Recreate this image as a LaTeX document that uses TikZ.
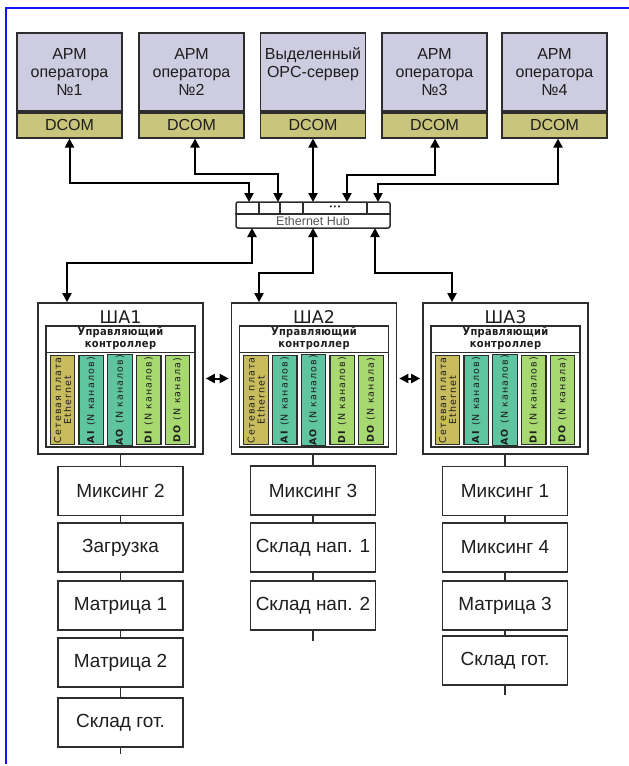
\documentclass[tikz,border=0pt]{standalone}
\usepackage{fontspec}
\setmainfont{Liberation Sans}
\newfontfamily\dvfont{DejaVu Sans}
\newfontfamily\ctlfont[LetterSpace=3]{DejaVu Sans Condensed}
\newfontfamily\modfont[LetterSpace=12]{DejaVu Sans}
\usetikzlibrary{arrows.meta,calc}

\definecolor{armfill}{RGB}{205,204,224}
\definecolor{dcomfill}{RGB}{201,197,125}
\definecolor{ethfill}{RGB}{200,188,92}
\definecolor{aifill}{RGB}{95,196,160}
\definecolor{difill}{RGB}{168,216,112}
\definecolor{linec}{RGB}{45,45,45}
\definecolor{textc}{RGB}{30,30,30}
\definecolor{hubtext}{RGB}{85,85,85}
\definecolor{framec}{RGB}{20,20,250}

\tikzset{
  edgeline/.style={draw=linec, line width=1.7pt},
  armbox/.style={edgeline, fill=armfill, rectangle, minimum width=105pt,
    minimum height=78pt, inner sep=0pt, align=center, text=textc,
    font=\fontsize{16}{18}\selectfont},
  dcombox/.style={edgeline, fill=dcomfill, rectangle, minimum width=105pt,
    minimum height=25pt, inner sep=0pt, text=textc,
    font=\fontsize{16}{18}\selectfont},
  link/.style={draw=black, line width=2pt,
    {Triangle[length=9pt,width=9pt]}-{Triangle[length=9pt,width=9pt]}},
  hubbox/.style={draw=linec, line width=1.5pt, fill=white, rounded corners=2pt,
    minimum width=154pt, minimum height=26pt, inner sep=0pt},
  hubline/.style={draw=linec, line width=1.3pt},
  shabox/.style={edgeline, fill=white, minimum width=165pt, minimum height=151pt,
    inner sep=0pt},
  shatitle/.style={inner sep=0pt, text=textc, font=\dvfont\fontsize{17.5}{17.5}\selectfont},
  panelbox/.style={draw=linec, line width=1.4pt, fill=white, minimum width=149pt,
    minimum height=121pt, inner sep=0pt},
  ctltext/.style={inner sep=0pt, align=center, text=textc,
    font=\ctlfont\bfseries\fontsize{11}{12}\selectfont},
  modbox/.style={draw=linec, line width=1.2pt, rotate=90, minimum width=89pt,
    minimum height=24.5pt, inner sep=0pt, align=center, text=textc,
    font=\modfont\fontsize{9.5}{10}\selectfont},
  stepbox/.style={edgeline, fill=white, minimum width=125pt, minimum height=49pt,
    inner sep=0pt, text=textc, font=\fontsize{19}{19}\selectfont},
  chain/.style={draw=linec, line width=1.6pt},
  twoway/.style={draw=black, line width=2pt,
    {Triangle[length=9pt,width=9pt]}-{Triangle[length=9pt,width=9pt]}},
}

% One cabinet: outer box, title, controller header and five I/O modules
\newcommand\shablock[3]{%
  \node[shabox] (#1) at (#2,378.5) {};
  \node[shatitle] (#1t) at (#2,317) {#3};
  \node[panelbox] (#1p) at (#2,386.5) {};
  \draw[hubline] ($(#1p.north west)+(0,27)$) -- ($(#1p.north east)+(0,27)$);
  \node[ctltext] (#1h) at ($(#1p.north)+(0,13.5)$) {Управляющий\\контроллер};
  \node[modbox, fill=ethfill] (#1m1) at ($(#1p.south west)+(17.25,-47.5)$) {Сетевая плата\\Ethernet};
  \node[modbox, fill=aifill] (#1m2) at ($(#1p.south west)+(45.95,-47.5)$) {\textbf{AI} (N каналов)};
  \node[modbox, fill=aifill] (#1m3) at ($(#1p.south west)+(74.65,-47.5)$) {\textbf{AO} (N каналов)};
  \node[modbox, fill=difill] (#1m4) at ($(#1p.south west)+(103.35,-47.5)$) {\textbf{DI} (N каналов)};
  \node[modbox, fill=difill] (#1m5) at ($(#1p.south west)+(132.05,-47.5)$) {\textbf{DO} (N канала)};
}

\begin{document}
\begin{tikzpicture}[x=1pt,y=-1pt]
\useasboundingbox (0,0) rectangle (629,766);
\fill[white] (0,0) rectangle (629,766);

% page frame (left and top edges)
\draw[framec, line width=2pt] (6,764) -- (6,8) -- (629,8);

% operator stations and OPC server
\node[armbox] (arm1) at (69.5,72) {АРМ\\оператора\\№1};
\node[dcombox, anchor=north] (dcom1) at (arm1.south) {DCOM};
\node[armbox] (arm2) at (191.5,72) {АРМ\\оператора\\№2};
\node[dcombox, anchor=north] (dcom2) at (arm2.south) {DCOM};
\node[armbox] (arm3) at (313,72) {Выделенный\\OPC-сервер\\\mbox{}};
\node[dcombox, anchor=north] (dcom3) at (arm3.south) {DCOM};
\node[armbox] (arm4) at (434.5,72) {АРМ\\оператора\\№3};
\node[dcombox, anchor=north] (dcom4) at (arm4.south) {DCOM};
\node[armbox] (arm5) at (554.5,72) {АРМ\\оператора\\№4};
\node[dcombox, anchor=north] (dcom5) at (arm5.south) {DCOM};

% Ethernet hub
\node[hubbox] (hub) at (313,215) {};
\draw[hubline] (hub.west) ++(0,-1) coordinate (hubmidw) -- (hubmidw -| hub.east);
\draw[hubline] (259,202) -- (259,214);
\draw[hubline] (280,202) -- (280,214);
\draw[hubline] (303,202) -- (303,214);
\draw[hubline] (367,202) -- (367,214);
\node[inner sep=0pt, text=textc, font=\dvfont\fontsize{7}{7}\selectfont] (dots) at (335,207.5) {•••};
\node[inner sep=0pt, text=hubtext, font=\fontsize{12.5}{12.5}\selectfont] (hublabel) at (313,221.5) {Ethernet Hub};

% hub ports
\coordinate (hp1) at (249,202);
\coordinate (hp2) at (278,202);
\coordinate (hp3) at (313,202);
\coordinate (hp4) at (347,202);
\coordinate (hp5) at (378,202);
\coordinate (hb1) at (252,228);
\coordinate (hb2) at (313,228);
\coordinate (hb3) at (375,228);

% station links
\draw[link] (dcom1.south) -- ++(0,44) -| (hp1);
\draw[link] ([xshift=3.5pt]dcom2.south) -- ++(0,35) -| (hp2);
\draw[link] (dcom3.south) -- (hp3);
\draw[link] ([xshift=0.5pt]dcom4.south) -- ++(0,36) -| (hp4);
\draw[link] ([xshift=3.5pt]dcom5.south) -- ++(0,45) -| (hp5);

% cabinets
\shablock{sha1}{120.5}{ША1}
\shablock{sha2}{314}{ША2}
\shablock{sha3}{505.5}{ША3}

\coordinate (s1in) at ([xshift=-53.5pt]sha1.north);
\coordinate (s2in) at ([xshift=-55pt]sha2.north);
\coordinate (s3in) at ([xshift=-53.5pt]sha3.north);
\draw[link] (hb1) -- ++(0,35) -| (s1in);
\draw[link] (hb2) -- ++(0,45) -| (s2in);
\draw[link] (hb3) -- ++(0,45) -| (s3in);

% links between cabinets
\draw[twoway] ([xshift=2pt]sha1.east) -- ([xshift=-2pt]sha2.west);
\draw[twoway] ([xshift=2pt]sha2.east) -- ([xshift=-2pt]sha3.west);

% process areas of cabinet 1
\node[stepbox] (c1a) at (120.5,491) {Миксинг 2};
\node[stepbox] (c1b) at (120.5,547.5) {Загрузка};
\node[stepbox] (c1c) at (120.5,605.5) {Матрица 1};
\node[stepbox] (c1d) at (120.5,662.5) {Матрица 2};
\node[stepbox] (c1e) at (120.5,722.5) {Склад гот.};
\coordinate (c1end) at ($(c1e.south)+(0,6)$);
\draw[chain] (sha1.south) -- (c1a.north) (c1a.south) -- (c1b.north)
  (c1b.south) -- (c1c.north) (c1c.south) -- (c1d.north)
  (c1d.south) -- (c1e.north) (c1e.south) -- (c1end);

% process areas of cabinet 2
\node[stepbox] (c2a) at (313,490.5) {Миксинг 3};
\node[stepbox] (c2b) at (313,547.5) {Склад нап. 1};
\node[stepbox] (c2c) at (313,605.5) {Склад нап. 2};
\coordinate (c2end) at ($(c2c.south)+(0,10)$);
\draw[chain] (sha2.south -| c2a.north) -- (c2a.north) (c2a.south) -- (c2b.north)
  (c2b.south) -- (c2c.north) (c2c.south) -- (c2end);

% process areas of cabinet 3
\node[stepbox] (c3a) at (505,491) {Миксинг 1};
\node[stepbox] (c3b) at (505,547.5) {Миксинг 4};
\node[stepbox] (c3c) at (505,605.5) {Матрица 3};
\node[stepbox] (c3d) at (505,660.5) {Склад гот.};
\coordinate (c3end) at ($(c3d.south)+(0,9)$);
\draw[chain] (sha3.south -| c3a.north) -- (c3a.north) (c3a.south) -- (c3b.north)
  (c3b.south) -- (c3c.north) (c3c.south) -- (c3d.north)
  (c3d.south) -- (c3end);
\end{tikzpicture}
\end{document}
